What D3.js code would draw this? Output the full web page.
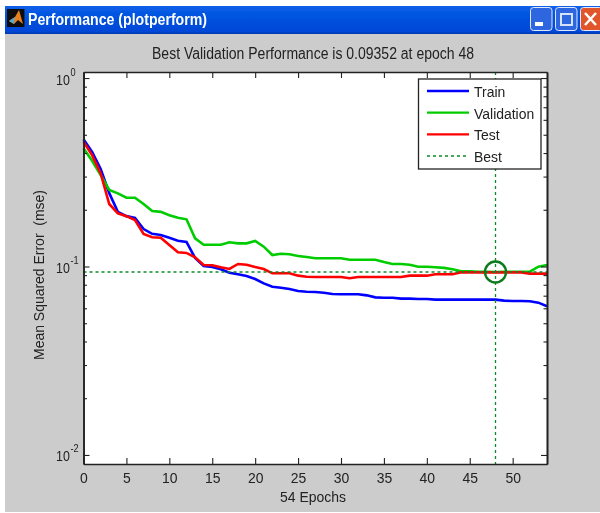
<!DOCTYPE html>
<html>
<head>
<meta charset="utf-8">
<title>Performance (plotperform)</title>
<script src="https://cdn.jsdelivr.net/npm/d3@7"></script>
<style>
  html, body { margin: 0; padding: 0; background: #fff; }
  svg { display: block; }
  text { font-family: "Liberation Sans", sans-serif; fill: #222; }
</style>
</head>
<body>
<div id="chart"></div>
<script>
// Values, one per epoch 0..54
var trainValues = [.473,.406,.329,.245,.195,.185,.181,.158,.149,.147,.142,.137,.135,.111,.1006,.0994,.0966,.0927,.0909,.0890,.0858,.0814,.0781,.0772,.0760,.0741,.0735,.0732,.0726,.0715,.0712,.0712,.0712,.0703,.0686,.0683,.0683,.0675,.0675,.0672,.0672,.0667,.0667,.0667,.0667,.0667,.0667,.0667,.0667,.0659,.0656,.0656,.0654,.0643,.0615];
var validationValues = [.424,.364,.306,.2546,.2445,.2317,.2317,.2146,.197,.195,.187,.1815,.178,.141,.1305,.1305,.1305,.1344,.1327,.1327,.1366,.1274,.115,.1169,.1161,.1137,.1123,.1105,.1105,.1105,.1105,.1086,.1086,.1086,.1086,.1056,.1031,.1031,.1022,.0997,.0997,.0990,.0983,.0966,.0943,.0943,.0938,.0938,.09352,.0938,.0938,.0938,.0938,.0997,.1018];
var testValues = [.459,.390,.312,.2146,.1915,.185,.1765,.1487,.1428,.1422,.130,.119,.118,.1119,.1018,.1015,.099,.097,.1031,.1022,.0994,.097,.092,.092,.092,.0894,.0883,.088,.088,.088,.088,.0866,.088,.088,.088,.088,.088,.088,.0894,.0894,.0894,.0909,.0909,.0909,.0931,.0931,.0931,.0931,.0931,.0931,.0931,.0931,.0916,.0916,.0916];

var seriesNames = ["Train", "Validation", "Test", "Best"];
var seriesColors = ["#0000ff", "#00cc00", "#ff0000", "#0a8a28"];

var bestEpoch = 48;
var bestValue = 0.09352;

var xTicks = [0, 5, 10, 15, 20, 25, 30, 35, 40, 45, 50];
var yMajorTicks = [1, 0.1, 0.01];
var yExponents = ["0", "-1", "-2"];
var yMinorTicks = [];
[0.01, 0.1].forEach(function(decade) {
  [2, 3, 4, 5, 6, 7, 8, 9].forEach(function(m) { yMinorTicks.push(decade * m); });
});

var titleText = "Best Validation Performance is 0.09352 at epoch 48";
var windowTitle = "Performance (plotperform)";

var width = 600, height = 513;
var plot = {left: 83.5, right: 547, top: 72, bottom: 464};

// liberation is wider than the matlab font, so squeeze text to the measured width
var NARROW = 0.9;
function squeeze(sel) {
  sel.each(function() {
    var w = this.getComputedTextLength();
    d3.select(this).attr("textLength", w * NARROW).attr("lengthAdjust", "spacingAndGlyphs");
  });
}

var svg = d3.select("#chart")
  .append("svg")
    .attr("width", width)
    .attr("height", height);

var defs = svg.append("defs");
var soften = defs.append("filter").attr("id", "soften");
soften.append("feGaussianBlur").attr("stdDeviation", 0.4);

var barGrad = defs.append("linearGradient").attr("id", "bar")
  .attr("x1", 0).attr("x2", 0).attr("y1", 0).attr("y2", 1);
barGrad.append("stop").attr("offset", "0").attr("stop-color", "#0a5fe8");
barGrad.append("stop").attr("offset", "0.5").attr("stop-color", "#0050dc");
barGrad.append("stop").attr("offset", "0.9").attr("stop-color", "#0048d8");
barGrad.append("stop").attr("offset", "1").attr("stop-color", "#0038b0");

var root = svg.append("g").attr("filter", "url(#soften)");

// Window frame
root.append("rect").attr("x", 5).attr("y", 6).attr("width", 595).attr("height", 506).attr("fill", "#cccccc");
root.append("rect").attr("x", 5).attr("y", 6).attr("width", 595).attr("height", 28).attr("fill", "url(#bar)");

// Window icon
root.append("rect").attr("x", 7).attr("y", 9).attr("width", 17.5).attr("height", 18).attr("fill", "#111");
root.append("path").attr("d", "M9 21 L15 17 L19 10 L23 24 L18 20 L14 24 Z").attr("fill", "#e8801c");
root.append("path").attr("d", "M9 21 L15 17 L14 24 Z").attr("fill", "#5aa8c8");

root.append("text")
  .attr("x", 28).attr("y", 25)
  .attr("font-size", 16).attr("font-weight", "bold")
  .attr("textLength", 179).attr("lengthAdjust", "spacingAndGlyphs")
  .style("fill", "#fff")
  .text(windowTitle);

// Window buttons
var buttons = [
  {x: 530.5, w: 21.5, fill: "#2f66e0"},
  {x: 555.5, w: 21.5, fill: "#2f66e0"},
  {x: 580.5, w: 22, fill: "#e0552c"}
];
root.selectAll("rect.winbtn")
  .data(buttons)
  .enter()
  .append("rect")
    .attr("class", "winbtn")
    .attr("x", function(d) { return d.x; })
    .attr("y", 7.5)
    .attr("width", function(d) { return d.w; })
    .attr("height", 23)
    .attr("rx", 3)
    .attr("fill", function(d) { return d.fill; })
    .attr("stroke", "#dfe8fb")
    .attr("stroke-width", 1);
root.append("rect").attr("x", 535).attr("y", 22).attr("width", 8).attr("height", 4).attr("fill", "#fff");
root.append("rect").attr("x", 561).attr("y", 14).attr("width", 11).attr("height", 11).attr("fill", "none").attr("stroke", "#d5e2fa").attr("stroke-width", 2);
root.append("path").attr("d", "M585 13 L596 25 M596 13 L585 25").attr("stroke", "#fff").attr("stroke-width", 2.5);

// Plot background
root.append("rect")
  .attr("x", plot.left).attr("y", plot.top)
  .attr("width", plot.right - plot.left).attr("height", plot.bottom - plot.top)
  .attr("fill", "#fff");

// Scales
var x = d3.scaleLinear().domain([0, 54]).range([plot.left, plot.right]);
var y = d3.scaleLog().domain([Math.pow(10, -2.048), Math.pow(10, 0.032)]).range([plot.bottom, plot.top]);

var line = d3.line()
  .x(function(d, i) { return x(i); })
  .y(function(d) { return y(d); });

// Series
[trainValues, validationValues, testValues].forEach(function(values, i) {
  root.append("path")
    .attr("d", line(values))
    .attr("fill", "none")
    .attr("stroke", seriesColors[i])
    .attr("stroke-width", 2.6);
});

// Best lines
root.append("line")
  .attr("x1", plot.left).attr("x2", plot.right)
  .attr("y1", y(bestValue)).attr("y2", y(bestValue))
  .attr("stroke", seriesColors[3]).attr("stroke-width", 1.3).attr("stroke-dasharray", "3,3");
root.append("line")
  .attr("x1", x(bestEpoch)).attr("x2", x(bestEpoch))
  .attr("y1", plot.top).attr("y2", plot.bottom)
  .attr("stroke", seriesColors[3]).attr("stroke-width", 1.3).attr("stroke-dasharray", "3,3");
root.append("circle")
  .attr("cx", x(bestEpoch)).attr("cy", y(bestValue)).attr("r", 10.5)
  .attr("fill", "none").attr("stroke", "#0a7a1e").attr("stroke-width", 2.4);

// Axes
function styleAxis(g) {
  g.select(".domain").attr("stroke", "#222").attr("stroke-width", 1.6);
  g.selectAll(".tick line").attr("stroke", "#222").attr("stroke-width", 1.1);
}

var fmtX = d3.format("d");
var xBottom = root.append("g")
  .attr("transform", "translate(0," + plot.bottom + ")")
  .call(d3.axisBottom(x).tickValues(xTicks).tickSize(-6).tickSizeOuter(0).tickPadding(8).tickFormat(fmtX))
  .call(styleAxis);
xBottom.selectAll("text")
  .attr("font-size", 15.5)
  .style("font-family", "'Liberation Sans', sans-serif")
  .call(squeeze);

root.append("g")
  .attr("transform", "translate(0," + plot.top + ")")
  .call(d3.axisTop(x).tickValues(xTicks).tickSize(-6).tickSizeOuter(0).tickFormat(""))
  .call(styleAxis);

root.append("g")
  .attr("transform", "translate(" + plot.left + ",0)")
  .call(d3.axisLeft(y).tickValues(yMinorTicks).tickSize(-3.5).tickSizeOuter(0).tickFormat(""))
  .call(styleAxis);
root.append("g")
  .attr("transform", "translate(" + plot.right + ",0)")
  .call(d3.axisRight(y).tickValues(yMinorTicks).tickSize(-3.5).tickSizeOuter(0).tickFormat(""))
  .call(styleAxis);

var yLeft = root.append("g")
  .attr("transform", "translate(" + plot.left + ",0)")
  .call(d3.axisLeft(y).tickValues(yMajorTicks).tickSize(-6).tickSizeOuter(0).tickFormat(""))
  .call(styleAxis);
root.append("g")
  .attr("transform", "translate(" + plot.right + ",0)")
  .call(d3.axisRight(y).tickValues(yMajorTicks).tickSize(-6).tickSizeOuter(0).tickFormat(""))
  .call(styleAxis);

// Log tick labels, 10 with a raised exponent
yLeft.selectAll(".tick text")
  .attr("x", 0).attr("dy", null).attr("y", 0)
  .attr("transform", "translate(-27.5,6)scale(0.8,1)")
  .attr("text-anchor", "start")
  .attr("font-size", 15.5)
  .style("font-family", "'Liberation Sans', sans-serif")
  .each(function(d, i) {
    var t = d3.select(this);
    t.text(null);
    t.append("tspan").text("10");
    t.append("tspan").attr("dx", 1).attr("dy", -9).attr("font-size", 11.5).text(yExponents[i]);
  });

// Titles
root.append("text")
  .attr("x", 313).attr("y", 59)
  .attr("text-anchor", "middle").attr("font-size", 16)
  .text(titleText)
  .attr("textLength", 322).attr("lengthAdjust", "spacingAndGlyphs");
root.append("text")
  .attr("x", 313).attr("y", 502)
  .attr("text-anchor", "middle").attr("font-size", 15.5)
  .text("54 Epochs")
  .attr("textLength", 66).attr("lengthAdjust", "spacingAndGlyphs");
root.append("text")
  .attr("transform", "translate(44,275)rotate(-90)")
  .attr("text-anchor", "middle").attr("font-size", 15.5)
  .attr("xml:space", "preserve")
  .text("Mean Squared Error  (mse)")
  .attr("textLength", 170).attr("lengthAdjust", "spacingAndGlyphs");

// Legend
var legend = root.append("g");
legend.append("rect")
  .attr("x", 418.5).attr("y", 79)
  .attr("width", 122.5).attr("height", 90)
  .attr("fill", "#fff").attr("stroke", "#222").attr("stroke-width", 1.3);

var legendY = d3.scalePoint().domain(seriesNames).range([91, 156]);
seriesNames.forEach(function(name, i) {
  var isBest = name === "Best";
  legend.append("line")
    .attr("x1", 427).attr("x2", 469)
    .attr("y1", legendY(name)).attr("y2", legendY(name))
    .attr("stroke", seriesColors[i])
    .attr("stroke-width", isBest ? 1.3 : 2.4)
    .attr("stroke-dasharray", isBest ? "3,3" : null);
  legend.append("text")
    .attr("x", 474).attr("y", legendY(name) + 6)
    .attr("font-size", 15.5)
    .text(name)
    .call(squeeze);
});
</script>
</body>
</html>
